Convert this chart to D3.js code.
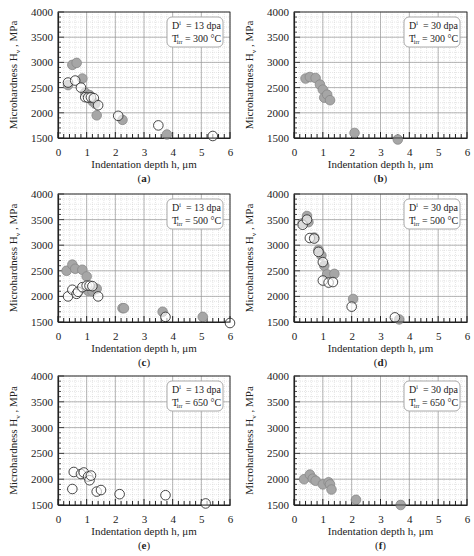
<!DOCTYPE html>
<html><head><meta charset="utf-8">
<script src="https://cdn.jsdelivr.net/npm/d3@7"></script>
<style>body{margin:0;background:#fff}</style>
</head><body><svg id="c" width="474" height="556" font-family="Liberation Serif, DejaVu Serif, serif"></svg>
<script>
const panelLabels=["a","b","c","d","e","f"];
const doses=["13","30","13","30","13","30"];
const temps=["300","300","500","500","650","650"];
const filledA=[[0.35,2550],[0.5,2950],[0.65,2990],[0.85,2680],[0.95,2400],[1.1,2350],[1.2,2230],[1.3,2180],[1.35,1950],[2.25,1860],[3.8,1570]];
const openA=[[0.35,2600],[0.6,2640],[0.8,2500],[0.95,2310],[1.05,2300],[1.15,2310],[1.25,2290],[1.4,2150],[2.1,1940],[3.5,1750],[5.4,1540]];
const filledB=[[0.4,2680],[0.55,2710],[0.75,2690],[0.9,2560],[1.0,2460],[1.05,2300],[1.15,2360],[1.25,2250],[2.1,1600],[3.6,1470]];
const openB=[];
const filledC=[[0.3,2500],[0.5,2620],[0.6,2540],[0.85,2520],[1.0,2390],[1.05,2110],[1.2,2100],[1.35,2150],[2.25,1770],[2.3,1770],[3.65,1700],[5.05,1600]];
const openC=[[0.35,2000],[0.5,2130],[0.65,2050],[0.7,2090],[0.85,2180],[1.0,2210],[1.1,2210],[1.2,2200],[1.4,2000],[3.75,1600],[6.0,1480]];
const filledD=[[0.3,3430],[0.45,3570],[0.5,3450],[0.7,3150],[0.85,2910],[0.95,2800],[1.05,2600],[1.15,2430],[1.4,2440],[2.05,1950],[3.65,1550]];
const openD=[[0.3,3400],[0.45,3500],[0.55,3140],[0.7,3130],[0.85,2870],[1.0,2670],[1.0,2310],[1.2,2270],[1.35,2280],[2.0,1800],[3.5,1590]];
const filledE=[];
const openE=[[0.5,1810],[0.55,2140],[0.8,2100],[0.9,2130],[1.05,2050],[1.1,1980],[1.15,2070],[1.35,1760],[1.5,1790],[2.15,1710],[3.75,1690],[5.15,1530]];
const filledF=[[0.35,2000],[0.55,2090],[0.65,2010],[0.75,1970],[1.0,1900],[1.2,1940],[1.25,1900],[1.3,1800],[2.15,1600],[3.7,1500]];
const openF=[];
const filled=[filledA,filledB,filledC,filledD,filledE,filledF];
const opens=[openA,openB,openC,openD,openE,openF];
const xTicks=[0,1,2,3,4,5,6];
const yTicks=[1500,2000,2500,3000,3500,4000];

const svg=d3.select("#c");
const cols=[[58,230],[294,467]];
const rows=[[12,138],[194,322],[376,505]];
for(let i=0;i<6;i++){
  const [x0,x1]=cols[i%2],[y0,y1]=rows[Math.floor(i/2)];
  const x=d3.scaleLinear().domain([0,6]).range([x0,x1]);
  const y=d3.scaleLinear().domain([1500,4000]).range([y1,y0]);
  const g=svg.append("g");
  d3.range(0,6.01,0.2).forEach(v=>g.append("line").attr("x1",x(v)).attr("x2",x(v)).attr("y1",y0).attr("y2",y1).attr("stroke","#ccc").attr("stroke-width",0.5).attr("stroke-dasharray","1,1"));
  d3.range(1500,4001,100).forEach(v=>g.append("line").attr("x1",x0).attr("x2",x1).attr("y1",y(v)).attr("y2",y(v)).attr("stroke","#ccc").attr("stroke-width",0.5).attr("stroke-dasharray","1,1"));
  xTicks.forEach(v=>g.append("line").attr("x1",x(v)).attr("x2",x(v)).attr("y1",y0).attr("y2",y1).attr("stroke","#999").attr("stroke-width",0.7));
  yTicks.forEach(v=>g.append("line").attr("x1",x0).attr("x2",x1).attr("y1",y(v)).attr("y2",y(v)).attr("stroke","#999").attr("stroke-width",0.7));
  const ax=g.append("g").attr("transform",`translate(0,${y1})`).call(d3.axisBottom(x).tickValues(xTicks).tickSize(0).tickPadding(10).tickFormat(d3.format("d")));
  const ay=g.append("g").attr("transform",`translate(${x0},0)`).call(d3.axisLeft(y).tickValues(yTicks).tickSize(0).tickPadding(5).tickFormat(d3.format("d")));
  [ax,ay].forEach(a=>{a.attr("font-family",null).attr("font-size",null);a.select(".domain").attr("stroke","#222").attr("stroke-width",1.2);a.selectAll("text").attr("fill","#222");});
  d3.range(0,6.01,0.2).forEach(v=>g.append("line").attr("x1",x(v)).attr("x2",x(v)).attr("y1",y1).attr("y2",y1-(Math.abs(v-Math.round(v))<0.01?6:4)).attr("stroke","#222").attr("stroke-width",1));
  d3.range(1500,4001,100).forEach(v=>g.append("line").attr("x1",x0).attr("x2",x0+(v%500===0?6:3)).attr("y1",y(v)).attr("y2",y(v)).attr("stroke","#222").attr("stroke-width",0.8));
  g.selectAll(".f").data(filled[i]).enter().append("circle").attr("cx",d=>x(d[0])).attr("cy",d=>y(d[1])).attr("r",4.8).attr("fill","#a6a6a6").attr("stroke","#888").attr("stroke-width",0.8);
  g.selectAll(".o").data(opens[i]).enter().append("circle").attr("cx",d=>x(d[0])).attr("cy",d=>y(d[1])).attr("r",4.8).attr("fill","#fff").attr("fill-opacity",0.6).attr("stroke","#333").attr("stroke-width",0.9);
  g.append("rect").attr("x",x1-63).attr("y",y0+5).attr("width",56).attr("height",30).attr("rx",5).attr("fill","#fff").attr("stroke","#aaa");
  const t1=g.append("text").attr("x",x1-58).attr("y",y0+17).attr("font-size",10);
  t1.append("tspan").text("D");t1.append("tspan").text("i").attr("dy",-4).attr("font-size",6);
  t1.append("tspan").text("  = "+doses[i]+" dpa").attr("dy",4).attr("xml:space","preserve");
  const t2=g.append("text").attr("x",x1-58).attr("y",y0+30).attr("font-size",10);
  t2.append("tspan").text("T");t2.append("tspan").text("i").attr("dy",-4).attr("dx",-1).attr("font-size",6);
  t2.append("tspan").text("irr").attr("dy",6).attr("dx",-2).attr("font-size",6);
  t2.append("tspan").text(" = "+temps[i]+" °C").attr("dy",-2);
  g.append("text").attr("x",(x0+x1)/2).attr("y",y1+30).attr("text-anchor","middle").attr("font-size",11).text("Indentation depth h, μm");
  const yl=g.append("text").attr("transform",`translate(${x0-41},${(y0+y1)/2}) rotate(-90)`).attr("text-anchor","middle").attr("font-size",11);
  yl.append("tspan").text("Microhardness  H");yl.append("tspan").text("v").attr("dy",3).attr("font-size",7);yl.append("tspan").text(" , MPa").attr("dy",-3);
  const pl=g.append("text").attr("x",(x0+x1)/2).attr("y",y1+44).attr("text-anchor","middle").attr("font-size",11);
  pl.append("tspan").text("(");pl.append("tspan").text(panelLabels[i]).attr("font-weight","bold");pl.append("tspan").text(")");
  g.append("rect").attr("x",x0).attr("y",y0).attr("width",x1-x0).attr("height",y1-y0).attr("fill","none").attr("stroke","#222").attr("stroke-width",0.8);
}
svg.selectAll("text").style("font-family","'Liberation Serif','DejaVu Serif',serif").attr("fill","#222");
svg.selectAll(".tick text").attr("font-size",11);
</script></body></html>
